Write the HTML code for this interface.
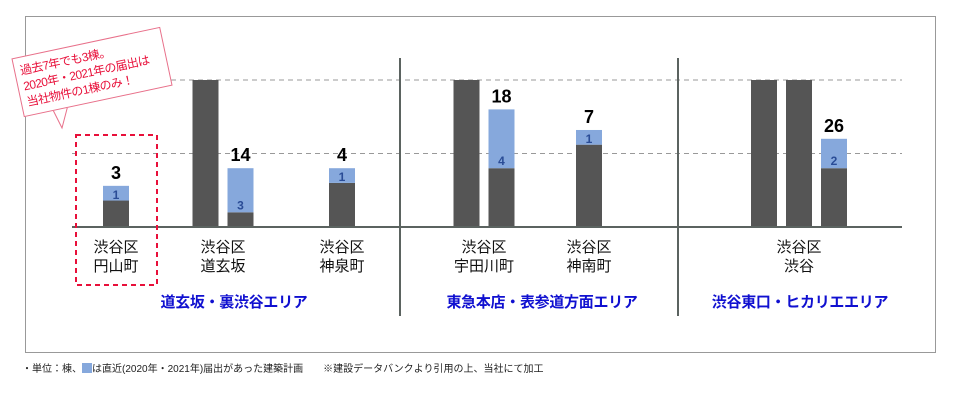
<!DOCTYPE html>
<html><head><meta charset="utf-8"><style>
body{margin:0;width:966px;height:403px;background:#fff;font-family:"Liberation Sans","Noto Sans CJK JP",sans-serif;position:relative;overflow:hidden}
.frame{position:absolute;left:25px;top:16px;width:909px;height:335px;border:1px solid #999}
.t{position:absolute;white-space:nowrap}
</style></head><body>
<div class="frame"></div>
<svg id="chart" width="966" height="403" style="position:absolute;left:0;top:0"></svg>
<div class="t" style="left:16px;top:42px;width:152px;height:60px;border:1px solid #e8708a;background:#fff;transform:rotate(-12deg);color:#e8103a;font-size:12px;letter-spacing:-0.6px;line-height:16px;padding:5px 5px;box-sizing:border-box;white-space:nowrap;overflow:hidden">過去7年でも3棟。<br>2020年・2021年の届出は<br>当社物件の1棟のみ！</div>
<div class="t" style="left:22px;top:360px;font-size:10px;color:#222">・単位：棟、<span style="display:inline-block;width:10px;height:10px;background:#86a8dc;vertical-align:-1px"></span>は直近(2020年・2021年)届出があった建築計画　　※建設データバンクより引用の上、当社にて加工</div>
<script>
const cats=["渋谷区\n円山町","渋谷区\n道玄坂","渋谷区\n神泉町","渋谷区\n宇田川町","渋谷区\n神南町","渋谷区\n渋谷"];
const totals=[3,14,4,18,7,26];
const fullBars=[0,1,0,1,0,2];
const darkVals=[1.8,1,3,4,5.6,4];
const blueVals=[1,3,1,4,1,2];
const areas=["道玄坂・裏渋谷エリア","東急本店・表参道方面エリア","渋谷東口・ヒカリエエリア"];
const gridVals=[5,10];
const NS="http://www.w3.org/2000/svg";
const svg=document.getElementById('chart');
const base=227, ppu=14.7, cap=10;
const catX=[116,223,342,484,589,799];
const barW=26, gap=9;
const y=v=>base-Math.min(v,cap)*ppu;
function el(t,a){const e=document.createElementNS(NS,t);for(const k in a)e.setAttribute(k,a[k]);svg.appendChild(e);return e;}
gridVals.forEach(g=>{const l=el('line',{x1:72,x2:902,y1:y(g),y2:y(g),stroke:'#999','stroke-dasharray':'5,4'});

});
[400,678].forEach(x=>{const l=el('line',{x1:x,x2:x,y1:58,y2:316,stroke:'#5b6360','stroke-width':2});

});
cats.forEach((c,i)=>{
 const n=fullBars[i]+1, total=n*barW+(n-1)*gap;
 let x0=catX[i]-total/2;
 for(let k=0;k<fullBars[i];k++){const r=el('rect',{x:x0,y:y(cap),width:barW,height:base-y(cap),fill:'#555'});
  
  x0+=barW+gap;}
 const dTop=y(darkVals[i]), bTop=y(darkVals[i]+blueVals[i]);
 const d=el('rect',{x:x0,y:dTop,width:barW,height:base-dTop,fill:'#555'});
 
 
 const b=el('rect',{x:x0,y:bTop,width:barW,height:dTop-bTop,fill:'#86a8dc'});
 
 
 const bt=el('text',{x:x0+barW/2,y:Math.max(dTop-3,bTop+13),'text-anchor':'middle','font-size':12,'font-weight':'bold',fill:'#2a4c96'});bt.textContent=blueVals[i];
 
 
 const tt=el('text',{x:x0+barW/2,y:bTop-7,'text-anchor':'middle','font-size':18,'font-weight':'bold',fill:'#000'});tt.textContent=totals[i];
 
 
 c.split('\n').forEach((s,j)=>{const t=el('text',{x:catX[i],y:252+j*19,'text-anchor':'middle','font-size':15,fill:'#111'});t.textContent=s;
  
  });
});
const ax=el('line',{x1:72,x2:902,y1:base,y2:base,stroke:'#5b6360','stroke-width':2});


const areaX=[234,542,800];
areas.forEach((a,i)=>{const t=el('text',{x:areaX[i],y:307,'text-anchor':'middle','font-size':15,'font-weight':'bold',fill:'#1010d0','letter-spacing':'-0.3'});t.textContent=a;
 
 });
const box=el('rect',{x:76,y:135,width:81,height:150,fill:'none',stroke:'#e8103a','stroke-width':2,'stroke-dasharray':'5,4'});


const tail=el('path',{d:'M52 108 L62 128 L68 105',fill:'#fff',stroke:'#e8708a'});


</script>
</body></html>
